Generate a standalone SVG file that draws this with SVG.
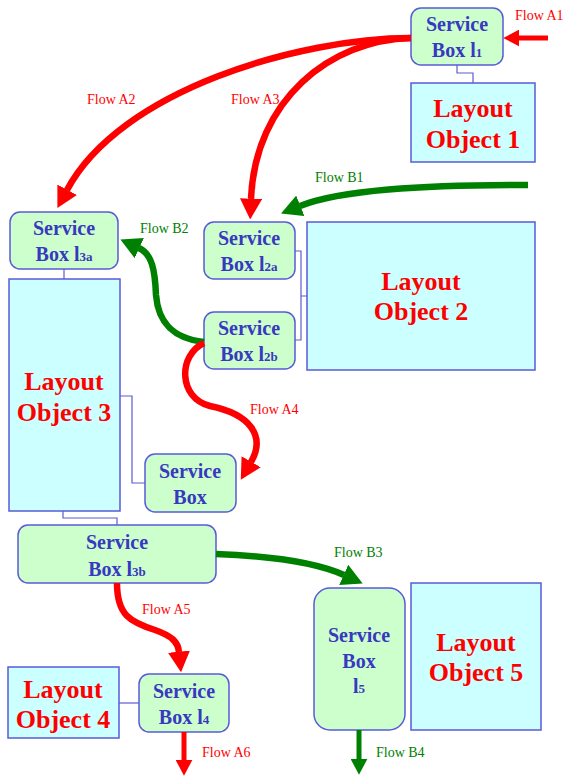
<svg xmlns="http://www.w3.org/2000/svg" width="566" height="776" viewBox="0 0 566 776">
  <style>
    .svc { fill: #ccffcc; stroke: #5a5ad8; stroke-width: 1.5; }
    .lo { fill: #ccffff; stroke: #5a5ad8; stroke-width: 1.5; }
    .svct { font-family: "Liberation Serif", "Times New Roman", serif; font-weight: bold; font-size: 20px; fill: #3838c0; text-anchor: middle; }
    .sub { font-size: 13px; }
    .lot { font-family: "Liberation Serif", "Times New Roman", serif; font-weight: bold; font-size: 26px; fill: #ff0000; text-anchor: middle; }
    .link { fill: none; stroke: #5a5ad8; stroke-width: 1.2; }
    .fa { fill: none; stroke: #ff0000; stroke-width: 6.5; }
    .fb { fill: none; stroke: #008000; stroke-width: 6.5; }
    .fa.thin, .fb.thin { stroke-width: 5; }
    .lbl { font-family: "Liberation Serif", "Times New Roman", serif; font-size: 14px; }
    .la { fill: #ff0000; }
    .lb { fill: #008000; }
  </style>
  <defs>
    <marker id="ahRed" markerUnits="strokeWidth" viewBox="0 -1.7 3.2 3.4" markerWidth="3.2" markerHeight="3.4" refX="0.05" refY="0" orient="auto">
      <path d="M0,-1.7 L3.2,0 L0,1.7 z" fill="#ff0000"/>
    </marker>
    <marker id="ahGreen" markerUnits="strokeWidth" viewBox="0 -1.7 3.2 3.4" markerWidth="3.2" markerHeight="3.4" refX="0.05" refY="0" orient="auto">
      <path d="M0,-1.7 L3.2,0 L0,1.7 z" fill="#008000"/>
    </marker>
  </defs>

  <!-- thin attachment lines between service boxes and layout objects -->
  <g id="links">
    <path class="link" d="M457,65 V73 H473 V83"/>
    <path class="link" d="M64,269 V279"/>
    <path class="link" d="M295,251 H301 V340 H295 M301,296 H307"/>
    <path class="link" d="M119,396 H132 V483 H145"/>
    <path class="link" d="M63,511 V518 H117 V525"/>
    <path class="link" d="M119,703 H139"/>
  </g>

  <g id="layout-object-1">
    <rect class="lo" x="411" y="83" width="124" height="79"/>
    <text class="lot" x="473" y="117">Layout</text>
    <text class="lot" x="473" y="148">Object 1</text>
  </g>
  <g id="layout-object-2">
    <rect class="lo" x="307" y="222" width="228" height="148"/>
    <text class="lot" x="421" y="290">Layout</text>
    <text class="lot" x="421" y="320">Object 2</text>
  </g>
  <g id="layout-object-3">
    <rect class="lo" x="9" y="279" width="111" height="232"/>
    <text class="lot" x="64" y="390">Layout</text>
    <text class="lot" x="64" y="421">Object 3</text>
  </g>
  <g id="layout-object-4">
    <rect class="lo" x="8" y="667" width="111" height="71"/>
    <text class="lot" x="63" y="698">Layout</text>
    <text class="lot" x="63" y="728">Object 4</text>
  </g>
  <g id="layout-object-5">
    <rect class="lo" x="411" y="583" width="130" height="147"/>
    <text class="lot" x="476" y="651">Layout</text>
    <text class="lot" x="476" y="681">Object 5</text>
  </g>

  <g id="service-box-l1">
    <rect class="svc" x="411" y="8" width="92" height="57" rx="10"/>
    <text class="svct" x="457" y="31">Service</text>
    <text class="svct" x="457" y="57">Box l<tspan class="sub">1</tspan></text>
  </g>
  <g id="service-box-l3a">
    <rect class="svc" x="10" y="212" width="108" height="57" rx="10"/>
    <text class="svct" x="64" y="235">Service</text>
    <text class="svct" x="64" y="261">Box l<tspan class="sub">3a</tspan></text>
  </g>
  <g id="service-box-l2a">
    <rect class="svc" x="204" y="222" width="91" height="57" rx="10"/>
    <text class="svct" x="249" y="245">Service</text>
    <text class="svct" x="249" y="271">Box l<tspan class="sub">2a</tspan></text>
  </g>
  <g id="service-box-l2b">
    <rect class="svc" x="204" y="312" width="91" height="57" rx="10"/>
    <text class="svct" x="249" y="335">Service</text>
    <text class="svct" x="249" y="361">Box l<tspan class="sub">2b</tspan></text>
  </g>
  <g id="service-box">
    <rect class="svc" x="145" y="454" width="91" height="58" rx="10"/>
    <text class="svct" x="190" y="478">Service</text>
    <text class="svct" x="190" y="504">Box</text>
  </g>
  <g id="service-box-l3b">
    <rect class="svc" x="18" y="525" width="198" height="58" rx="10"/>
    <text class="svct" x="117" y="549">Service</text>
    <text class="svct" x="117" y="576">Box l<tspan class="sub">3b</tspan></text>
  </g>
  <g id="service-box-l4">
    <rect class="svc" x="139" y="674" width="90" height="58" rx="10"/>
    <text class="svct" x="184" y="698">Service</text>
    <text class="svct" x="184" y="724">Box l<tspan class="sub">4</tspan></text>
  </g>
  <g id="service-box-l5">
    <rect class="svc" x="314" y="588" width="91" height="142" rx="16"/>
    <text class="svct" x="359" y="642">Service</text>
    <text class="svct" x="359" y="668">Box</text>
    <text class="svct" x="359" y="693">l<tspan class="sub">5</tspan></text>
  </g>

  <!-- flows -->
  <g id="flows">
    <path class="fa thin" d="M548,38 L519,38" marker-end="url(#ahRed)"/>
    <path class="fa" d="M411,38 C300,38 120,90 67,190" marker-end="url(#ahRed)"/>
    <path class="fa" d="M411,38 C330,40 255,100 251,199" marker-end="url(#ahRed)"/>
    <path class="fb" d="M528,185 C420,185 340,190 300,206" marker-end="url(#ahGreen)"/>
    <path class="fb" d="M204,342 C170,338 158,320 156,295 C155,270 152,254 139,248" marker-end="url(#ahGreen)"/>
    <path class="fa" d="M204,343 C178,355 178,398 210,406 C250,414 266,436 251,462" marker-end="url(#ahRed)"/>
    <path class="fb" d="M216,554 C270,556 315,562 344,575" marker-end="url(#ahGreen)"/>
    <path class="fa" d="M117,583 C117,615 130,622 155,630 C172,636 178,642 179,652" marker-end="url(#ahRed)"/>
    <path class="fa thin" d="M184,732 L184,760" marker-end="url(#ahRed)"/>
    <path class="fb thin" d="M359,730 L359,759" marker-end="url(#ahGreen)"/>
  </g>

  <g id="flow-labels">
    <text class="lbl la" x="515" y="20">Flow A1</text>
    <text class="lbl la" x="87" y="104">Flow A2</text>
    <text class="lbl la" x="231" y="104">Flow A3</text>
    <text class="lbl lb" x="315" y="182">Flow B1</text>
    <text class="lbl lb" x="140" y="233">Flow B2</text>
    <text class="lbl la" x="250" y="414">Flow A4</text>
    <text class="lbl lb" x="334" y="557">Flow B3</text>
    <text class="lbl la" x="142" y="614">Flow A5</text>
    <text class="lbl la" x="202" y="757">Flow A6</text>
    <text class="lbl lb" x="376" y="757">Flow B4</text>
  </g>
</svg>
